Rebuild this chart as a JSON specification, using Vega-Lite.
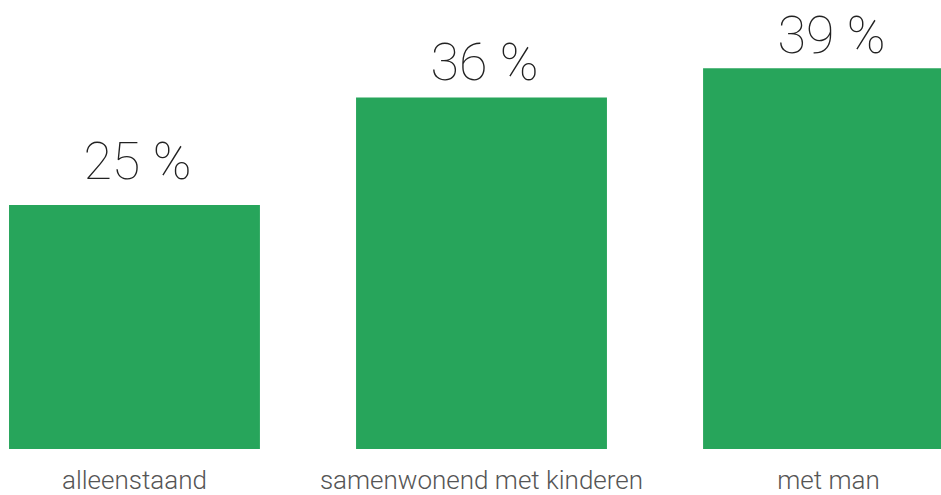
{
  "$schema": "https://vega.github.io/schema/vega-lite/v6.json",
  "width": 941,
  "height": 449,
  "autosize": "none",
  "padding": {"left": 0, "top": 0, "right": 0, "bottom": 46},
  "background": "white",
  "config": {"view": {"stroke": null}},
  "data": {"values": [
    {"categorie": "alleenstaand", "waarde": 25, "label": "25 %"},
    {"categorie": "samenwonend met kinderen", "waarde": 36, "label": "36 %"},
    {"categorie": "met man", "waarde": 39, "label": "39 %"}
  ]},
  "encoding": {
    "x": {"field": "categorie", "type": "nominal", "sort": null,
      "scale": {"range": [0, 963], "paddingInner": 0.277, "paddingOuter": 0.026},
      "axis": {"title": null, "domain": false, "ticks": false, "labelAngle": 0,
        "labelFont": "Roboto", "labelFontWeight": 300, "labelFontSize": 26,
        "labelColor": "#555555", "labelPadding": 18, "labelLimit": 0}}
  },
  "resolve": {"scale": {"y": "independent"}},
  "layer": [
    {"mark": {"type": "bar", "color": "#27a55b"},
     "encoding": {"y": {"field": "waarde", "type": "quantitative",
      "scale": {"domain": [0, 46], "nice": false}, "axis": null}}},
    {"mark": {"type": "text", "baseline": "alphabetic", "dy": -46, "dx": 3,
      "font": "Roboto", "fontWeight": 100, "fontSize": 52, "color": "#222222"},
     "encoding": {
      "y": {"field": "waarde", "type": "quantitative",
        "scale": {"domain": [0, 50], "nice": false}, "axis": null},
      "text": {"field": "label", "type": "nominal"}}}
  ]
}
